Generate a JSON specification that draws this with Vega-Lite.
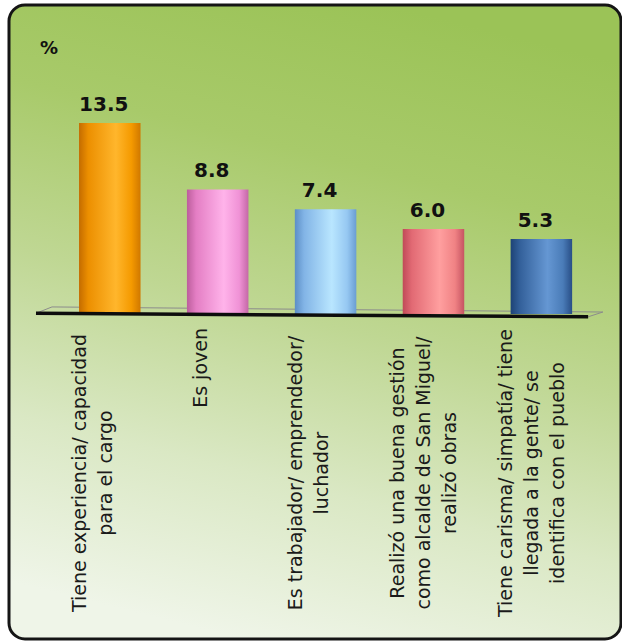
{
  "$schema": "https://vega.github.io/schema/vega-lite/v6.json",
  "width": 612,
  "height": 634,
  "autosize": {"type": "none"},
  "padding": {"left": 9, "top": 5, "right": 1, "bottom": 4},
  "background": "#ffffff",
  "view": {
    "fill": {
      "gradient": "linear",
      "x1": 0.62, "y1": 0, "x2": 0.38, "y2": 1,
      "stops": [
        {"offset": 0, "color": "#9BC357"},
        {"offset": 0.25, "color": "#A8CA6A"},
        {"offset": 0.5, "color": "#BFD793"},
        {"offset": 0.75, "color": "#DAE8C4"},
        {"offset": 1, "color": "#EFF5E8"}
      ]
    },
    "stroke": "#151515",
    "strokeWidth": 3,
    "cornerRadius": 16
  },
  "data": {
    "values": [
      {"cat": "A", "value": 13.5, "label": ["Tiene experiencia/ capacidad", "para el cargo"]},
      {"cat": "B", "value": 8.8, "label": ["Es joven"]},
      {"cat": "C", "value": 7.4, "label": ["Es trabajador/ emprendedor/", "luchador"]},
      {"cat": "D", "value": 6.0, "label": ["Realizó una buena gestión", "como alcalde de San Miguel/", "realizó obras"]},
      {"cat": "E", "value": 5.3, "label": ["Tiene carisma/ simpatía/ tiene", "llegada a la gente/ se", "identifica con el pueblo"]}
    ]
  },
  "encoding": {
    "x": {
      "field": "cat",
      "type": "nominal",
      "axis": null,
      "scale": {"paddingInner": 0.43, "paddingOuter": 0.551, "align": 0.589}
    }
  },
  "layer": [
    {
      "data": {"values": [{}]},
      "mark": {"type": "rule", "color": "#8c8c8c", "strokeWidth": 1},
      "encoding": {
        "x": {"datum": "A", "bandPosition": -0.44},
        "x2": {"datum": "E", "bandPosition": 1.5},
        "y": {"datum": 0.5, "type": "quantitative", "axis": null},
        "y2": {"datum": 0.14}
      }
    },
    {
      "data": {"values": [{}]},
      "mark": {"type": "rule", "color": "#8c8c8c", "strokeWidth": 1},
      "encoding": {
        "x": {"datum": "E", "bandPosition": 1.26},
        "x2": {"datum": "E", "bandPosition": 1.5},
        "y": {"datum": -0.2, "type": "quantitative", "axis": null},
        "y2": {"datum": 0.14}
      }
    },
    {
      "data": {"values": [{}]},
      "mark": {"type": "rule", "color": "#8c8c8c", "strokeWidth": 1},
      "encoding": {
        "x": {"datum": "A", "bandPosition": -0.7},
        "x2": {"datum": "A", "bandPosition": -0.44},
        "y": {"datum": 0.05, "type": "quantitative", "axis": null},
        "y2": {"datum": 0.5}
      }
    },
    {
      "mark": {"type": "bar", "cornerRadius": 0},
      "encoding": {
        "y": {
          "field": "value",
          "type": "quantitative",
          "scale": {"domain": [-22.968, 21.837], "nice": false, "zero": false},
          "axis": null
        },
        "y2": {"datum": 0},
        "fill": {
          "condition": [
            {"test": "datum.cat === 'A'", "value": {"gradient": "linear", "x1": 0, "y1": 0, "x2": 1, "y2": 0, "stops": [
              {"offset": 0, "color": "#C46C00"}, {"offset": 0.15, "color": "#EC8F00"}, {"offset": 0.6, "color": "#FFB62C"}, {"offset": 0.85, "color": "#F59A00"}, {"offset": 1, "color": "#D07800"}]}},
            {"test": "datum.cat === 'B'", "value": {"gradient": "linear", "x1": 0, "y1": 0, "x2": 1, "y2": 0, "stops": [
              {"offset": 0, "color": "#BC5E9C"}, {"offset": 0.15, "color": "#E47EC4"}, {"offset": 0.6, "color": "#FFB3EA"}, {"offset": 0.85, "color": "#F092D6"}, {"offset": 1, "color": "#C468A6"}]}},
            {"test": "datum.cat === 'C'", "value": {"gradient": "linear", "x1": 0, "y1": 0, "x2": 1, "y2": 0, "stops": [
              {"offset": 0, "color": "#5C8EC6"}, {"offset": 0.15, "color": "#82B4E6"}, {"offset": 0.6, "color": "#B9E6FF"}, {"offset": 0.85, "color": "#96C8F2"}, {"offset": 1, "color": "#6A9DD2"}]}},
            {"test": "datum.cat === 'D'", "value": {"gradient": "linear", "x1": 0, "y1": 0, "x2": 1, "y2": 0, "stops": [
              {"offset": 0, "color": "#C04A58"}, {"offset": 0.15, "color": "#E26A74"}, {"offset": 0.6, "color": "#FF9F9F"}, {"offset": 0.85, "color": "#F08284"}, {"offset": 1, "color": "#C65462"}]}}
          ],
          "value": {"gradient": "linear", "x1": 0, "y1": 0, "x2": 1, "y2": 0, "stops": [
            {"offset": 0, "color": "#1E4376"}, {"offset": 0.15, "color": "#33609A"}, {"offset": 0.6, "color": "#6597D3"}, {"offset": 0.85, "color": "#4A7CB8"}, {"offset": 1, "color": "#284E86"}]}
        }
      }
    },
    {
      "data": {"values": [{}]},
      "mark": {"type": "rule", "color": "#0d0d0d", "strokeWidth": 3.5},
      "encoding": {
        "x": {"datum": "A", "bandPosition": -0.7},
        "x2": {"datum": "E", "bandPosition": 1.26},
        "y": {"datum": 0.05, "type": "quantitative", "axis": null},
        "y2": {"datum": -0.2}
      }
    },
    {
      "data": {"values": [{"t": "%"}]},
      "mark": {"type": "text", "font": "DejaVu Sans", "fontSize": 18, "fontWeight": "bold", "color": "#111111", "baseline": "alphabetic", "align": "center"},
      "encoding": {
        "x": {"datum": "A", "bandPosition": -0.49},
        "y": {"datum": 18.37, "type": "quantitative", "axis": null},
        "text": {"field": "t", "type": "nominal"}
      }
    },
    {
      "mark": {"type": "text", "font": "DejaVu Sans", "fontSize": 20, "fontWeight": "bold", "color": "#111111", "baseline": "alphabetic", "align": "center", "dy": -12, "dx": -6},
      "encoding": {
        "y": {"field": "value", "type": "quantitative", "axis": null},
        "text": {"field": "value", "type": "quantitative", "format": ".1f"}
      }
    },
    {
      "transform": [{"filter": "datum.label.length == 2"}],
      "mark": {"type": "text", "font": "DejaVu Sans", "fontSize": 19, "color": "#1a1a1a", "angle": 270, "align": "center", "baseline": "middle", "lineHeight": 26, "dy": -30},
      "encoding": {
        "y": {"datum": -11.24, "type": "quantitative", "axis": null},
        "text": {"field": "label", "type": "nominal"}
      }
    },
    {
      "transform": [{"filter": "datum.label.length == 3"}],
      "mark": {"type": "text", "font": "DejaVu Sans", "fontSize": 19, "color": "#1a1a1a", "angle": 270, "align": "center", "baseline": "middle", "lineHeight": 26, "dy": -35},
      "encoding": {
        "y": {"datum": -11.24, "type": "quantitative", "axis": null},
        "text": {"field": "label", "type": "nominal"}
      }
    },
    {
      "transform": [{"filter": "datum.label.length == 1"}],
      "mark": {"type": "text", "font": "DejaVu Sans", "fontSize": 19, "color": "#1a1a1a", "angle": 270, "align": "right", "baseline": "middle", "lineHeight": 26, "dy": -17},
      "encoding": {
        "y": {"datum": -0.99, "type": "quantitative", "axis": null},
        "text": {"field": "label", "type": "nominal"}
      }
    }
  ]
}
